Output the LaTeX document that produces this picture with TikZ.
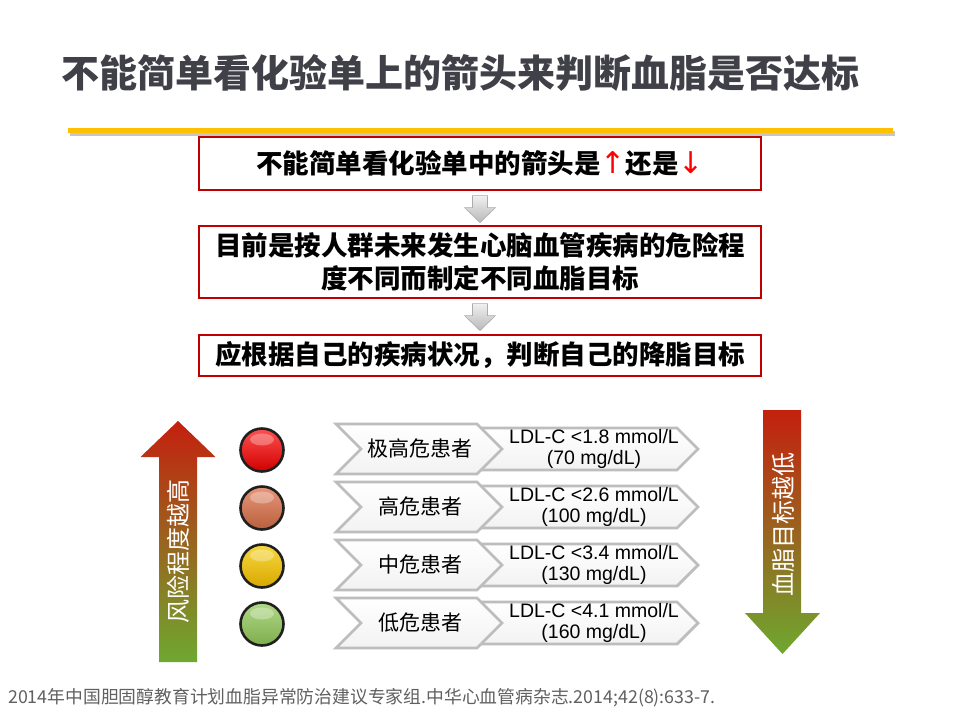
\documentclass[tikz,border=0pt]{standalone}
\usepackage{fontspec}
\setmainfont{Liberation Sans}
\newfontfamily\cjk{Noto Sans CJK SC}
\newfontfamily\symf{DejaVu Sans}
\usetikzlibrary{calc}
\definecolor{titlegray}{HTML}{404048}
\definecolor{gold}{HTML}{FFC000}
\definecolor{boxred}{HTML}{C00000}
\definecolor{arrred}{HTML}{C4200E}
\definecolor{arrgreen}{HTML}{6EA830}
\definecolor{chevgray}{HTML}{BDBDBD}
\definecolor{notegray}{HTML}{606060}
\definecolor{redT}{HTML}{FF5050}\definecolor{redB}{HTML}{D00000}
\definecolor{orT}{HTML}{E8967A}\definecolor{orB}{HTML}{B8603E}
\definecolor{yeT}{HTML}{F8D840}\definecolor{yeB}{HTML}{D8A800}
\definecolor{grT}{HTML}{B0D888}\definecolor{grB}{HTML}{7EAE4C}
\tikzset{
  boxst/.style={draw=boxred, line width=1.1pt, fill=white, minimum width=562pt,
    inner sep=0pt, text=black, align=center,
    font=\cjk\bfseries\fontsize{26.5}{33}\selectfont},
  grayarr/.style={top color=gray!12, bottom color=gray!55, draw=gray!65, line width=0.6pt},
  bigarr/.style={top color=arrred, bottom color=arrgreen},
  arrtext/.style={rotate=90, text=white, inner sep=0pt, font=\cjk\fontsize{24}{26}\selectfont},
  chev/.style={draw=chevgray, line width=2.8pt, line join=miter, top color=white, bottom color=gray!10},
  labtext/.style={inner sep=0pt, font=\cjk\fontsize{21}{24}\selectfont},
  valtext/.style={inner sep=0pt, align=center, font=\fontsize{19.5}{21}\selectfont},
  lamp/.style 2 args={circle, minimum size=43pt, inner sep=0pt, draw=black!88, line width=2.6pt,
    top color=#1, bottom color=#2,
    path picture={\fill[white,opacity=0.3] ($(path picture bounding box.north)+(0,11)$) ellipse (12 and 6);}},
}
\begin{document}
\begin{tikzpicture}[x=1pt,y=-1pt]
\useasboundingbox[fill=white] (0,0) rectangle (960,720);

% title
\node[anchor=west, inner sep=0pt, text=titlegray, font=\cjk\bfseries\fontsize{38}{42}\selectfont] (title) at (61,73)
  {不能简单看化验单上的箭头来判断血脂是否达标};
\draw[gray!45, line width=5pt] (70,133) -- (895,133);
\draw[gold, line width=5pt] (68,130) -- (893,130);

% boxes
\node[boxst, minimum height=53pt] (b1) at (480,163.5)
  {不能简单看化验单中的箭头是{\symf\mdseries\fontsize{30}{30}\selectfont\color{red}↑}还是{\symf\mdseries\fontsize{30}{30}\selectfont\color{red}↓}};
\node[boxst, minimum height=72pt] (b2) at (480,262)
  {目前是按人群未来发生心脑血管疾病的危险程\\度不同而制定不同血脂目标};
\node[boxst, minimum height=41pt] (b3) at (480,355.5)
  {应根据自己的疾病状况，判断自己的降脂目标};

\foreach \u in {b1,b2}{
  \path[grayarr] ($(\u.south)+(-7.5,5)$) -- ($(\u.south)+(7.5,5)$) -- ($(\u.south)+(7.5,17)$)
    -- ($(\u.south)+(15.5,17)$) -- ($(\u.south)+(0,32)$) -- ($(\u.south)+(-15.5,17)$)
    -- ($(\u.south)+(-7.5,17)$) -- cycle;
}

% big arrows
\path[bigarr] (159,662) -- (159,457) -- (140.5,457) -- (178,421) -- (215.5,457) -- (197,457) -- (197,662) -- cycle;
\node[arrtext] (risk) at (178,551) {风险程度越高};
\path[bigarr] (763,410) -- (801,410) -- (801,613) -- (820,613) -- (782.5,654) -- (745,613) -- (763,613) -- cycle;
\node[arrtext] (target) at (783,524) {血脂目标越低};

% rows
\foreach \i/\c/\lab/\v/\m/\ct/\cb in {
   1/449/极高危患者/1.8/70/redT/redB,
   2/507/高危患者/2.6/100/orT/orB,
   3/565/中危患者/3.4/130/yeT/yeB,
   4/623/低危患者/4.1/160/grT/grB}{
  \path[chev] (478,\c-21) -- (677,\c-21) -- (698,\c) -- (677,\c+21) -- (478,\c+21) -- (499,\c) -- cycle;
  \path[chev] (336,\c-25) -- (477,\c-25) -- (502,\c) -- (477,\c+25) -- (336,\c+25) -- (361,\c) -- cycle;
  \node[labtext] (l\i) at (420,\c) {\lab};
  \node[valtext] (v\i) at (594,\c) {LDL-C <\v\ mmol/L\\(\m\ mg/dL)};
  \node[lamp={\ct}{\cb}] (c\i) at (262,\c+1) {};
}

% footnote
\node[anchor=base west, inner sep=0pt, text=notegray, font=\cjk\fontsize{17.8}{19}\selectfont] (note) at (8,703)
  {2014年中国胆固醇教育计划血脂异常防治建议专家组.中华心血管病杂志.2014;42(8):633-7.};
\end{tikzpicture}
\end{document}
